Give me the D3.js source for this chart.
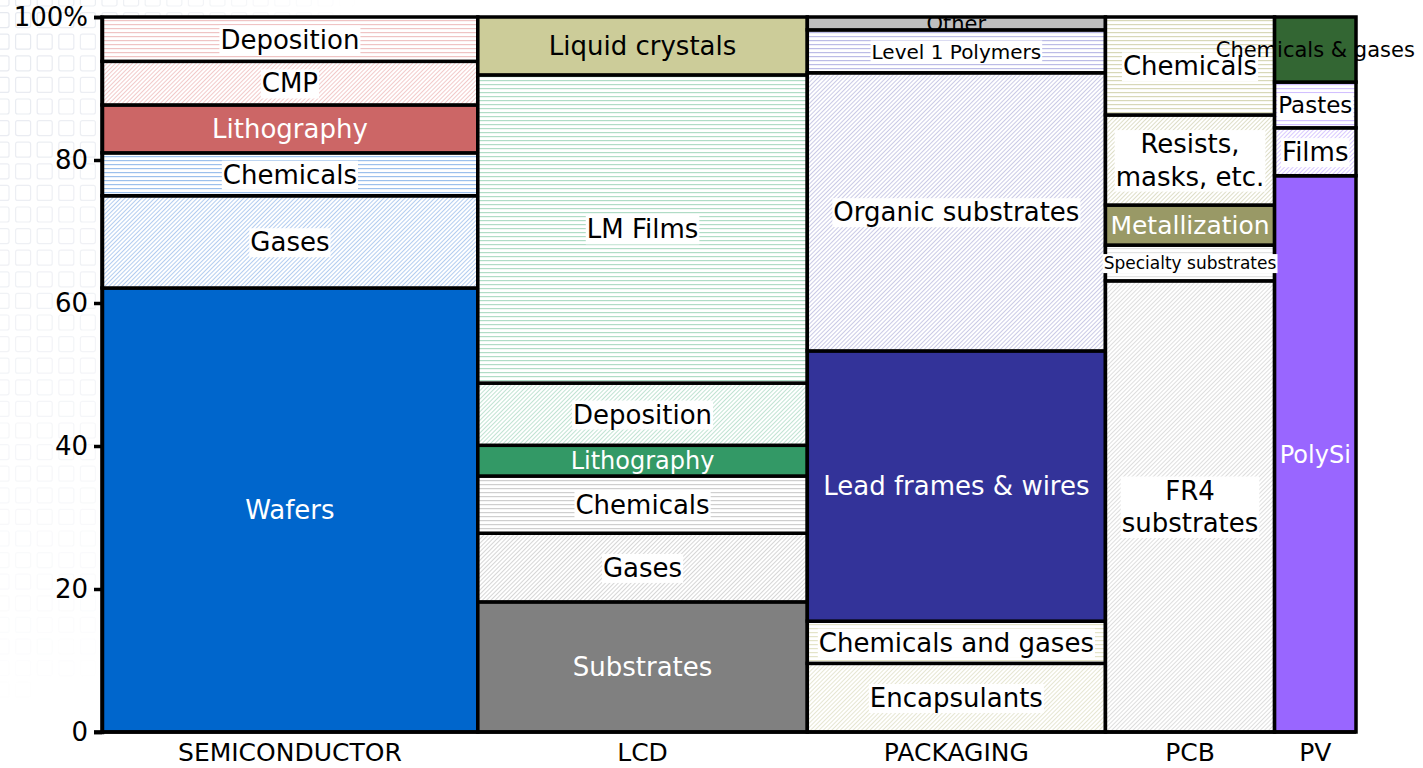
<!DOCTYPE html>
<html>
<head>
<meta charset="utf-8">
<script src="https://cdn.jsdelivr.net/npm/d3@7"></script>
<style>
  body { margin: 0; background: #fff; }
  svg text { font-family: "DejaVu Sans", Verdana, sans-serif; }
</style>
</head>
<body>
<div id="chart"></div>
<script>
// market columns (width = share of total)
const categories = ['SEMICONDUCTOR', 'LCD', 'PACKAGING', 'PCB', 'PV'];
const categoryShares = [30.0, 26.3, 23.8, 13.5, 6.5];

// segments, bottom to top, % of each column
const semiconductorParts = ['Wafers', 'Gases', 'Chemicals', 'Lithography', 'CMP', 'Deposition'];
const semiconductorValues = [62.1, 12.9, 6.0, 6.7, 6.1, 6.2];

const lcdParts = ['Substrates', 'Gases', 'Chemicals', 'Lithography', 'Deposition', 'LM Films', 'Liquid crystals'];
const lcdValues = [18.2, 9.6, 8.0, 4.3, 8.7, 43.1, 8.1];

const packagingParts = ['Encapsulants', 'Chemicals and gases', 'Lead frames & wires', 'Organic substrates', 'Level 1 Polymers', 'Other'];
const packagingValues = [9.6, 5.9, 37.8, 38.9, 6.0, 1.8];

const pcbParts = ['FR4 substrates', 'Specialty substrates', 'Metallization', 'Resists, masks, etc.', 'Chemicals'];
const pcbValues = [63.1, 5.0, 5.6, 12.6, 13.7];

const pvParts = ['PolySi', 'Films', 'Pastes', 'Chemicals & gases'];
const pvValues = [77.8, 6.7, 6.4, 9.1];

const yTicks = [0, 20, 40, 60, 80, 100];

const partsByCategory = {
  SEMICONDUCTOR: [semiconductorParts, semiconductorValues],
  LCD: [lcdParts, lcdValues],
  PACKAGING: [packagingParts, packagingValues],
  PCB: [pcbParts, pcbValues],
  PV: [pvParts, pvValues]
};

// look of each segment: s = solid, h = horizontal lines, d = diagonal lines
const partStyles = {
  'SEMICONDUCTOR|Wafers': { kind: 's', color: '#0066cc', text: '#fff' },
  'SEMICONDUCTOR|Gases': { kind: 'd', color: '#b3cdf0' },
  'SEMICONDUCTOR|Chemicals': { kind: 'h', color: '#9cc0ec' },
  'SEMICONDUCTOR|Lithography': { kind: 's', color: '#cc6666', text: '#fff' },
  'SEMICONDUCTOR|CMP': { kind: 'd', color: '#f2caca' },
  'SEMICONDUCTOR|Deposition': { kind: 'h', color: '#efc4c4' },
  'LCD|Substrates': { kind: 's', color: '#808080', text: '#fff' },
  'LCD|Gases': { kind: 'd', color: '#d6d6d6' },
  'LCD|Chemicals': { kind: 'h', color: '#cfcfcf' },
  'LCD|Lithography': { kind: 's', color: '#339966', text: '#fff', size: 24 },
  'LCD|Deposition': { kind: 'd', color: '#c0e3d2' },
  'LCD|LM Films': { kind: 'h', color: '#b0dcc6', box: false },
  'LCD|Liquid crystals': { kind: 's', color: '#cccc99' },
  'PACKAGING|Encapsulants': { kind: 'd', color: '#e6e6d2' },
  'PACKAGING|Chemicals and gases': { kind: 'h', color: '#e4e4c8' },
  'PACKAGING|Lead frames & wires': { kind: 's', color: '#333399', text: '#fff' },
  'PACKAGING|Organic substrates': { kind: 'd', color: '#cacae6' },
  'PACKAGING|Level 1 Polymers': { kind: 'h', color: '#bcbce6', size: 20 },
  'PACKAGING|Other': { kind: 's', color: '#bfbfbf', size: 21, clip: true },
  'PCB|FR4 substrates': { kind: 'd', color: '#dedede', lines: ['FR4', 'substrates'], box: false },
  'PCB|Specialty substrates': { kind: 'h', color: '#e2e2e2', size: 17 },
  'PCB|Metallization': { kind: 's', color: '#999966', text: '#fff', size: 25 },
  'PCB|Resists, masks, etc.': { kind: 'd', color: '#dedec8' },
  'PCB|Chemicals': { kind: 'h', color: '#d8d8b8' },
  'PV|PolySi': { kind: 's', color: '#9966ff', text: '#fff', size: 24 },
  'PV|Films': { kind: 'd', color: '#d8c8ff' },
  'PV|Pastes': { kind: 'h', color: '#d2c0ff', size: 23 },
  'PV|Chemicals & gases': { kind: 's', color: '#336633', size: 21 }
};

// multi-line label text
const labelLines = {
  'PCB|FR4 substrates': ['FR4', 'substrates'],
  'PCB|Resists, masks, etc.': ['Resists,', 'masks, etc.']
};

const W = 1423, H = 768;
const margin = { top: 17, right: 67, bottom: 36, left: 102 };

const svg = d3.select('#chart').append('svg')
  .attr('width', W)
  .attr('height', H);

const defs = svg.append('defs');

// faint square watermark in the corner
const wm = svg.append('g');
d3.range(-6, 340, 21.6).forEach(x => {
  d3.range(-9, 720, 21.6).forEach(y => {
    const fade = Math.max(0, 1 - Math.hypot(x / 360, y / 720));
    if (fade <= 0.05) return;
    wm.append('rect')
      .attr('x', x).attr('y', y)
      .attr('width', 15).attr('height', 15)
      .attr('rx', 2)
      .attr('fill', 'none')
      .attr('stroke', '#e3e6ed')
      .attr('stroke-width', 1.2)
      .attr('opacity', Math.min(1, fade * 0.9));
  });
});

const total = d3.sum(categoryShares);
const x = d3.scaleLinear().domain([0, total]).range([margin.left, W - margin.right]);
const y = d3.scaleLinear().domain([0, 100]).range([H - margin.bottom, margin.top]);

// build patterns
let patId = 0;
function fillFor(st) {
  if (st.kind === 's') return st.color;
  const id = 'pat' + (patId++);
  const size = st.kind === 'h' ? 4 : 3;
  const p = defs.append('pattern')
    .attr('id', id)
    .attr('patternUnits', 'userSpaceOnUse')
    .attr('width', size).attr('height', size);
  if (st.kind === 'd') p.attr('patternTransform', 'rotate(-45)');
  p.append('rect').attr('width', size).attr('height', size).attr('fill', '#fff');
  p.append('rect').attr('y', 0).attr('width', size).attr('height', st.kind === 'h' ? 1.2 : 1)
    .attr('fill', st.color);
  return `url(#${id})`;
}

// flatten into segments
const segments = [];
let x0 = 0;
categories.forEach((cat, i) => {
  const [parts, vals] = partsByCategory[cat];
  let y0 = 0;
  parts.forEach((p, j) => {
    segments.push({ cat, part: p, x0, x1: x0 + categoryShares[i], y0, y1: y0 + vals[j], style: partStyles[cat + '|' + p] });
    y0 += vals[j];
  });
  x0 += categoryShares[i];
});

const gBars = svg.append('g');
gBars.selectAll('rect')
  .data(segments)
  .enter()
  .append('rect')
  .attr('x', d => x(d.x0))
  .attr('y', d => y(d.y1))
  .attr('width', d => x(d.x1) - x(d.x0))
  .attr('height', d => y(d.y0) - y(d.y1))
  .attr('fill', d => fillFor(d.style))
  .attr('stroke', '#000')
  .attr('stroke-width', 3.5);

// axes
const yAxis = svg.append('g')
  .attr('transform', `translate(${margin.left}, 0)`)
  .call(d3.axisLeft(y).tickValues(yTicks).tickSize(8).tickPadding(6)
    .tickFormat(d => d === 100 ? '100%' : d));
yAxis.select('.domain').attr('stroke-width', 3.5);
yAxis.selectAll('.tick line').attr('stroke-width', 3.5);
yAxis.selectAll('text')
  .style('font-size', '26px')
  .style('font-family', '"DejaVu Sans", Verdana, sans-serif')
  .attr('fill', '#000');

svg.append('line')
  .attr('x1', margin.left - 8).attr('x2', W - margin.right)
  .attr('y1', y(0)).attr('y2', y(0))
  .attr('stroke', '#000').attr('stroke-width', 3.5);

let cx = 0;
categories.forEach((cat, i) => {
  svg.append('text')
    .attr('x', x(cx + categoryShares[i] / 2))
    .attr('y', H - 7)
    .attr('text-anchor', 'middle')
    .style('font-size', '25px')
    .attr('fill', '#000')
    .text(cat);
  cx += categoryShares[i];
});

// segment labels
const gLab = svg.append('g');
segments.forEach((d, i) => {
  const key = d.cat + '|' + d.part;
  const st = d.style;
  const size = st.size || 26;
  const lines = labelLines[key] || [d.part];
  const mx = (x(d.x0) + x(d.x1)) / 2;
  const my = (y(d.y0) + y(d.y1)) / 2;
  const g = gLab.append('g');
  if (st.clip) {
    const cid = 'clip' + i;
    defs.append('clipPath').attr('id', cid)
      .append('rect')
      .attr('x', x(d.x0)).attr('y', y(d.y1))
      .attr('width', x(d.x1) - x(d.x0)).attr('height', y(d.y0) - y(d.y1));
    g.attr('clip-path', `url(#${cid})`);
  }
  const lh = size * 1.25;
  const t = g.append('text')
    .attr('text-anchor', 'middle')
    .style('font-size', size + 'px')
    .attr('fill', st.text || '#000');
  lines.forEach((ln, k) => {
    t.append('tspan')
      .attr('x', mx)
      .attr('y', my + (k - (lines.length - 1) / 2) * lh + size * 0.36)
      .text(ln);
  });
  if (st.kind !== 's') {
    const bb = t.node().getBBox();
    g.insert('rect', 'text')
      .attr('x', bb.x - 1).attr('y', bb.y + 1)
      .attr('width', bb.width + 2).attr('height', bb.height - 1)
      .attr('fill', '#fff');
  }
});
</script>
</body>
</html>
